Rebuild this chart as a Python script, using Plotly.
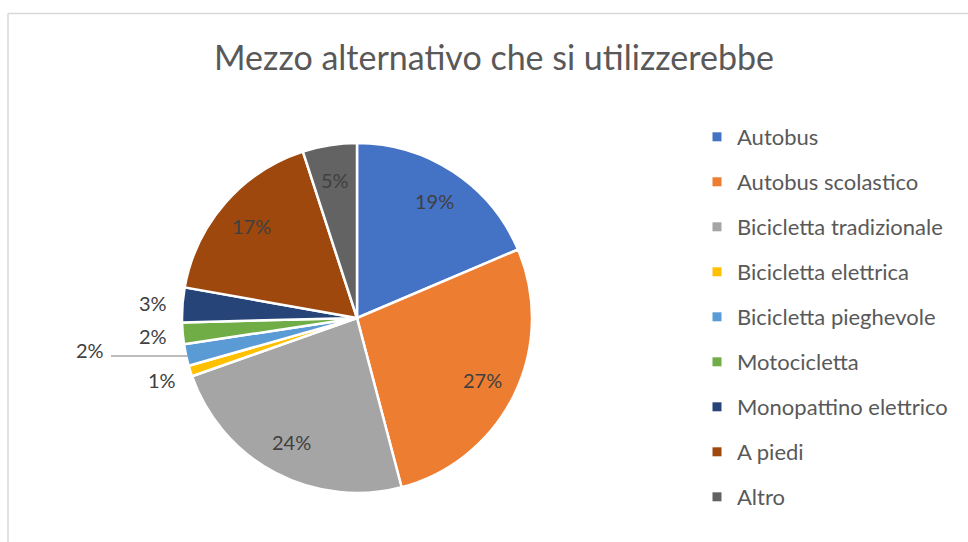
import math
import plotly.graph_objects as go

W, H = 968, 542

categories = ["Autobus", "Autobus scolastico", "Bicicletta tradizionale", "Bicicletta elettrica",
              "Bicicletta pieghevole", "Motocicletta", "Monopattino elettrico", "A piedi", "Altro"]
values = [18.6, 27.3, 23.7, 1.0, 2.0, 2.0, 3.2, 17.2, 5.0]
colors = ["#4472C4", "#ED7D31", "#A5A5A5", "#FFC000", "#5B9BD5", "#70AD47", "#264478", "#9E480E", "#636363"]
title_text = "Mezzo alternativo che si utilizzerebbe"

# pie geometry (pixels)
CX, CY, R = 357, 318, 175
FONT = "Lato, 'Open Sans', sans-serif"
TXT = "#404040"


def px(x, y):
    return x / W, 1 - y / H


fig = go.Figure()
x0, y1 = px(CX - R, CY - R)
x1, y0 = px(CX + R, CY + R)
fig.add_trace(go.Pie(
    labels=categories, values=values, sort=False, direction="clockwise", rotation=0,
    marker=dict(colors=colors, line=dict(color="white", width=2.5)),
    textinfo="none", hoverinfo="label+percent", showlegend=False,
    domain=dict(x=[x0, x1], y=[y0, y1]),
))

# legend via dummy traces (allows Excel-like spacing)
for c, col in zip(categories, colors):
    fig.add_trace(go.Scatter(x=[None], y=[None], mode="markers", name=c, legendgroup=c,
                             marker=dict(symbol="square", size=9, color=col)))

# data labels computed from data
total = sum(values)
cum = 0
annotations = []
shapes = []
for i, v in enumerate(values):
    mid = (cum + v / 2) / total
    cum += v
    th = 2 * math.pi * mid
    pct = f"{round(100 * v / total):d}%"
    if v / total >= 0.04:
        d = 0.8 * R
        lx, ly = CX + d * math.sin(th), CY - d * math.cos(th)
        annotations.append((lx, ly, pct))
    elif categories[i] == "Bicicletta pieghevole":
        # label pushed out with a horizontal leader line
        ex, ey = CX + R * math.sin(th), CY - R * math.cos(th)
        annotations.append((90, ey - 5, pct))
        shapes.append(dict(type="line", xref="paper", yref="paper",
                           x0=111 / W, x1=(ex + 2) / W, y0=1 - (ey + 1) / H, y1=1 - (ey + 1) / H,
                           line=dict(color="#A6A6A6", width=1.5)))
    else:
        d = 1.17 * R
        lx, ly = CX + d * math.sin(th), CY - d * math.cos(th)
        annotations.append((lx, ly, pct))

ann = []
for lx, ly, t in annotations:
    ax, ay = px(lx, ly)
    ann.append(dict(x=ax, y=ay, xref="paper", yref="paper", text=t, showarrow=False,
                    xanchor="center", yanchor="middle", font=dict(family=FONT, size=20, color=TXT)))

# chart frame (top and left edges visible)
shapes.append(dict(type="line", xref="paper", yref="paper", x0=8 / W, x1=1, y0=1 - 13.5 / H, y1=1 - 13.5 / H,
                   line=dict(color="#D9D9D9", width=1.5)))
shapes.append(dict(type="line", xref="paper", yref="paper", x0=8 / W, x1=8 / W, y0=0, y1=1 - 13.5 / H,
                   line=dict(color="#D9D9D9", width=1.5)))

fig.update_layout(
    width=W, height=H, margin=dict(l=0, r=0, t=0, b=0),
    paper_bgcolor="white", plot_bgcolor="white",
    title=dict(text=title_text, x=494 / W, xanchor="center", y=1 - 58 / H, yanchor="middle",
               font=dict(family=FONT, size=34, color="#595959")),
    xaxis=dict(visible=False), yaxis=dict(visible=False),
    legend=dict(x=697 / W, xanchor="left", y=1 - 116 / H, yanchor="top",
                font=dict(family=FONT, size=22, color="#595959"), tracegroupgap=13.4,
                itemclick=False, itemdoubleclick=False),
    annotations=ann, shapes=shapes,
)

fig.write_html("out.html", config={"displayModeBar": False},
               post_script="document.body.style.margin='0';")
